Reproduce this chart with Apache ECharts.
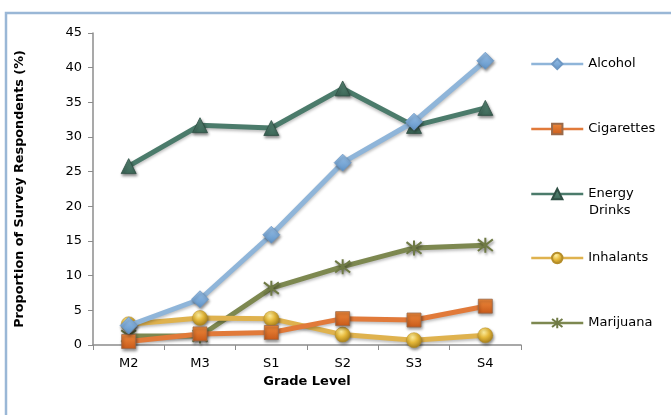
<!DOCTYPE html>
<html>
<head>
<meta charset="utf-8">
<script src="https://cdn.jsdelivr.net/npm/echarts@6/dist/echarts.min.js"></script>
<style>
  html, body { margin: 0; padding: 0; background: #fff; }
  #chart { width: 671px; height: 415px; }
</style>
</head>
<body>
<div id="chart"></div>
<script>
// Grade levels on the x axis
const grades = ['M2', 'M3', 'S1', 'S2', 'S3', 'S4'];

// Share of respondents (%) by substance
const alcohol     = [2.8, 6.6, 15.9, 26.3, 32.2, 41.0];
const cigarettes  = [0.5, 1.6, 1.8, 3.8, 3.6, 5.6];
const energyDrinks = [25.8, 31.7, 31.3, 37.0, 31.6, 34.2];
const inhalants   = [3.0, 3.9, 3.8, 1.5, 0.7, 1.4];
const marijuana   = [1.3, 1.3, 8.2, 11.3, 14.0, 14.4];

const seriesNames = ['Alcohol', 'Cigarettes', 'Energy Drinks', 'Inhalants', 'Marijuana'];
const yTicks = { min: 0, max: 45, step: 5 };

const FONT = 'DejaVu Sans';
const chart = echarts.init(document.getElementById('chart'), null, { renderer: 'canvas' });

const shadow = { shadowBlur: 3, shadowColor: 'rgba(0,0,0,0.45)', shadowOffsetX: 1, shadowOffsetY: 2 };

function grad(top, bottom) {
  return new echarts.graphic.LinearGradient(0, 0, 0, 1, [
    { offset: 0, color: top }, { offset: 1, color: bottom }
  ]);
}

const styles = [
  { data: alcohol, line: '#8FB5D9', symbol: 'diamond', size: 17,
    item: { color: grad('#9CC3EA', '#5F93C7'), borderColor: '#6E98C4', borderWidth: 0.8 } },
  { data: cigarettes, line: '#E17A3A', symbol: 'rect', size: 14,
    item: { color: grad('#F08A3C', '#C85A1A'), borderColor: '#9A6A4A', borderWidth: 0.8 } },
  { data: energyDrinks, line: '#4B7B6B', symbol: 'triangle', size: 15,
    item: { color: grad('#5C8C7A', '#3C6657'), borderColor: '#2F4F44', borderWidth: 0.8 } },
  { data: inhalants, line: '#DFB24E', symbol: 'circle', size: 15,
    item: { color: new echarts.graphic.RadialGradient(0.4, 0.3, 0.7, [
      { offset: 0, color: '#FFF0A0' }, { offset: 0.5, color: '#E5B83A' }, { offset: 1, color: '#A8801C' }
    ]), borderColor: '#B58E2A', borderWidth: 0.5 } },
  { data: marijuana, line: '#7D8850', symbol: 'path://M0,0 L10,10 M10,0 L0,10 M5,-1.5 L5,11.5', size: 15,
    item: { color: 'none', borderColor: '#6F7A45', borderWidth: 2 } }
];

const series = styles.map((s, i) => ({
  name: seriesNames[i],
  type: 'line',
  data: s.data,
  symbol: s.symbol,
  symbolSize: s.size,
  showAllSymbol: true,
  lineStyle: { color: s.line, width: 5, shadowBlur: 3, shadowColor: 'rgba(0,0,0,0.25)', shadowOffsetY: 2 },
  itemStyle: Object.assign({}, s.item, shadow),
  emphasis: { disabled: true },
  z: 2 + (4 - i) * 0.1
}));

// One legend block per series so each row sits at its own height
const legendTops = [54, 119, 184, 248, 313];
const legends = seriesNames.map((name, i) => ({
  data: [name],
  left: 530,
  top: legendTops[i],
  padding: 0,
  orient: 'vertical',
  itemWidth: 52,
  itemHeight: 13,
  lineStyle: { width: 2.5 },
  // "Energy Drinks" wraps: first word beside the marker, second word below it
  formatter: n => n === 'Energy Drinks' ? 'Energy' : n,
  textStyle: { fontFamily: FONT, fontSize: 13, color: '#000', lineHeight: 20 },
  selectedMode: false
}));

chart.setOption({
  animation: false,
  backgroundColor: '#fff',
  graphic: [{
    type: 'rect',
    shape: { x: 6, y: 13, width: 700, height: 420 },
    style: { fill: 'none', stroke: '#9AB7D6', lineWidth: 2.5 },
    silent: true
  }, {
    type: 'text',
    left: 589,
    top: 204,
    style: { text: 'Drinks', fontFamily: FONT, fontSize: 13, fill: '#000' },
    silent: true
  }],
  grid: { left: 93, right: 150, top: 33, bottom: 70 },
  legend: legends,
  xAxis: {
    type: 'category',
    data: grades,
    boundaryGap: true,
    name: 'Grade Level',
    nameLocation: 'middle',
    nameGap: 29,
    nameTextStyle: { fontFamily: FONT, fontSize: 13, fontWeight: 'bold', color: '#000' },
    axisLine: { lineStyle: { color: '#8C8C8C', width: 1.5 } },
    axisTick: { show: true, alignWithLabel: false, length: 5, lineStyle: { color: '#8C8C8C' } },
    axisLabel: { fontFamily: FONT, fontSize: 13, color: '#000', margin: 12 },
    splitLine: { show: false }
  },
  yAxis: {
    type: 'value',
    min: yTicks.min,
    max: yTicks.max,
    interval: yTicks.step,
    name: 'Proportion of Survey Respondents (%)',
    nameLocation: 'middle',
    nameGap: 67,
    nameTextStyle: { fontFamily: FONT, fontSize: 12.8, fontWeight: 'bold', color: '#000' },
    axisLine: { show: true, lineStyle: { color: '#8C8C8C', width: 1.5 } },
    axisTick: { show: true, length: 5, lineStyle: { color: '#8C8C8C' } },
    axisLabel: { fontFamily: FONT, fontSize: 13, color: '#000', margin: 11 },
    splitLine: { show: false }
  },
  series: series
});
</script>
</body>
</html>
